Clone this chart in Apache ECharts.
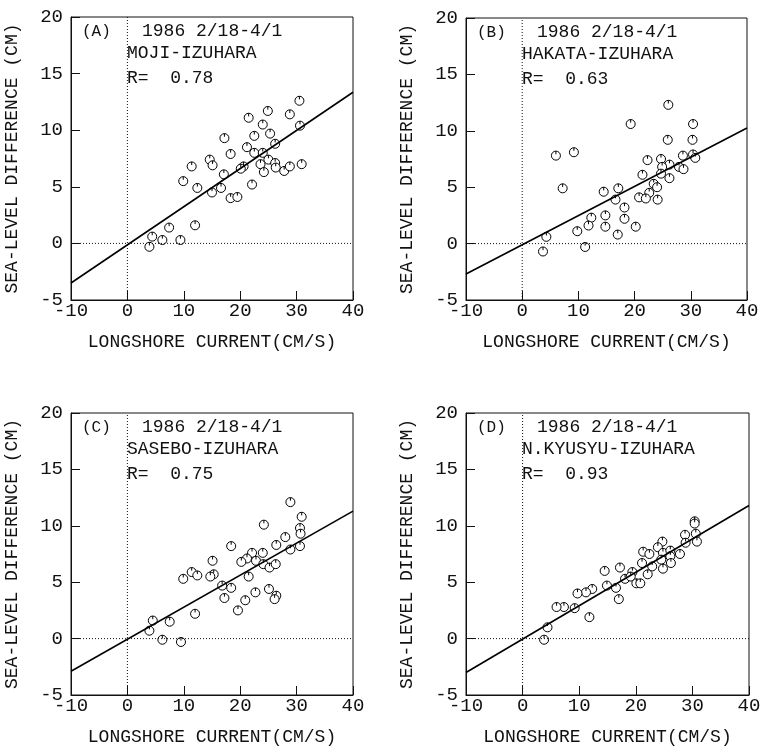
<!DOCTYPE html>
<html>
<head>
<meta charset="utf-8">
<script src="https://cdn.jsdelivr.net/npm/echarts@6/dist/echarts.min.js"></script>
<style>
  html, body { margin: 0; padding: 0; background: #fff; }
  #chart { width: 766px; height: 749px; }
</style>
</head>
<body>
<div id="chart"></div>
<script>
// Sea-level difference vs. longshore current, four station pairs (1986 2/18-4/1)
const panelTags = ['(A)', '(B)', '(C)', '(D)'];
const stationPairs = ['MOJI-IZUHARA', 'HAKATA-IZUHARA', 'SASEBO-IZUHARA', 'N.KYUSYU-IZUHARA'];
const correlations = ['0.78', '0.63', '0.75', '0.93'];
const period = '1986 2/18-4/1';
const xTitle = 'LONGSHORE CURRENT(CM/S)';
const yTitle = 'SEA-LEVEL DIFFERENCE (CM)';

// [current cm/s, sea-level difference cm]
const mojiPoints = [
  [30.5,12.6],[24.9,11.7],[21.5,11.1],[28.8,11.4],[24.0,10.5],[30.6,10.4],[25.3,9.7],[22.5,9.5],
  [17.2,9.3],[26.2,8.8],[21.2,8.5],[18.3,7.9],[22.5,8.0],[24.0,8.0],[25.0,7.4],[14.6,7.4],
  [15.1,6.9],[11.4,6.8],[20.6,6.8],[20.1,6.6],[23.6,7.0],[26.2,7.1],[26.3,6.7],[24.2,6.3],
  [27.8,6.4],[28.8,6.8],[30.9,7.0],[17.1,6.1],[9.9,5.5],[12.4,4.9],[16.6,4.9],[15.0,4.5],
  [22.1,5.2],[18.3,4.0],[19.5,4.1],[12.0,1.6],[7.4,1.4],[4.4,0.6],[6.2,0.3],[9.4,0.3],[3.9,-0.3]
];
const hakataPoints = [
  [26.0,12.3],[19.3,10.6],[30.4,10.6],[25.9,9.2],[30.3,9.2],[6.0,7.8],[9.2,8.1],[22.3,7.4],
  [24.7,7.5],[28.6,7.8],[30.4,7.9],[30.8,7.6],[26.2,7.0],[24.9,6.8],[27.9,6.8],[28.7,6.6],
  [21.4,6.1],[26.2,5.8],[24.7,6.2],[7.2,4.9],[14.5,4.6],[17.1,4.9],[16.6,3.9],[23.4,5.3],
  [24.0,5.0],[22.6,4.5],[20.8,4.1],[22.0,4.0],[24.1,3.9],[18.2,3.2],[12.3,2.3],[14.8,2.5],
  [11.8,1.6],[14.8,1.5],[18.2,2.2],[9.8,1.1],[20.2,1.5],[17.0,0.8],[4.3,0.6],[3.7,-0.7],[11.2,-0.3]
];
const sasebosPoints = [
  [28.9,12.1],[30.9,10.8],[24.2,10.1],[30.6,9.8],[30.7,9.3],[28.0,9.0],[26.4,8.3],[28.9,7.9],
  [30.6,8.2],[18.4,8.2],[22.1,7.6],[24.0,7.6],[21.2,7.1],[20.2,6.8],[22.8,6.9],[24.1,6.6],
  [25.2,6.3],[26.3,6.6],[15.1,6.9],[11.4,5.9],[9.9,5.3],[12.4,5.6],[15.3,5.7],[14.7,5.5],
  [21.5,5.5],[16.8,4.7],[18.4,4.5],[17.2,3.6],[22.7,4.1],[25.1,4.4],[26.4,3.8],[26.1,3.5],
  [20.9,3.4],[19.6,2.5],[12.0,2.2],[4.5,1.6],[7.5,1.5],[3.9,0.7],[6.2,-0.1],[9.5,-0.3]
];
const kyusyuPoints = [
  [30.4,10.4],[30.4,10.2],[28.7,9.2],[30.6,9.3],[28.8,8.5],[30.8,8.6],[24.7,8.6],[23.9,8.1],
  [21.3,7.7],[22.4,7.5],[24.8,7.6],[26.1,7.8],[27.8,7.5],[26.1,7.3],[24.5,7.0],[26.2,6.7],
  [24.8,6.2],[21.1,6.7],[22.9,6.4],[22.1,5.7],[14.5,6.0],[17.2,6.3],[19.4,5.9],[18.1,5.3],
  [19.1,5.5],[20.1,4.9],[20.8,4.9],[14.9,4.7],[16.5,4.5],[12.3,4.4],[11.2,4.1],[9.7,4.0],
  [17.0,3.5],[9.2,2.7],[7.3,2.8],[6.0,2.8],[11.8,1.9],[4.4,1.0],[3.8,-0.1]
];

// Least-squares fit lines, end points at the axis limits
const mojiFit = [[-10,-3.5],[40,13.35]];
const hakataFit = [[-10,-2.7],[40,10.25]];
const sasebosFit = [[-10,-2.9],[40,11.3]];
const kyusyuFit = [[-10,-3.0],[40,11.8]];

const xZeroLine = [[0,-5],[0,20]];
const yZeroLine = [[-10,0],[40,0]];

const pointSets = [mojiPoints, hakataPoints, sasebosPoints, kyusyuPoints];
const fitSets = [mojiFit, hakataFit, sasebosFit, kyusyuFit];

const FONT = '"Liberation Mono", "DejaVu Sans Mono", monospace';
const INK = '#111';
const grids = [
  { left: 71,  top: 17,  width: 282, height: 283 },
  { left: 466, top: 18,  width: 281, height: 282 },
  { left: 71,  top: 413, width: 282, height: 282 },
  { left: 466, top: 413, width: 283, height: 282 }
];

// open circle with a short tick from the top toward the centre
const markSymbol = 'path://M0,-10A10,10,0,1,1,0,10A10,10,0,1,1,0,-10ZM0,-10L0,-3';

const option = {
  animation: false,
  backgroundColor: '#fff',
  grid: grids.map(g => Object.assign({ show: true, borderColor: INK, borderWidth: 1, backgroundColor: 'transparent' }, g)),
  xAxis: grids.map((g, i) => ({
    type: 'value', gridIndex: i, min: -10, max: 40, interval: 10,
    name: xTitle, nameLocation: 'middle', nameGap: 33,
    nameTextStyle: { fontFamily: FONT, fontSize: 18, color: INK },
    axisLine: { show: true, onZero: false, lineStyle: { color: INK, width: 1 } },
    axisTick: { show: true, inside: true, length: 9, lineStyle: { color: INK, width: 1 } },
    axisLabel: { fontFamily: FONT, fontSize: 19, color: INK, margin: 1 },
    splitLine: { show: false }
  })),
  yAxis: grids.map((g, i) => ({
    type: 'value', gridIndex: i, min: -5, max: 20, interval: 5,
    name: yTitle, nameLocation: 'middle', nameGap: 50, nameRotate: 90,
    nameTextStyle: { fontFamily: FONT, fontSize: 18, color: INK },
    axisLine: { show: true, onZero: false, lineStyle: { color: INK, width: 1 } },
    axisTick: { show: true, inside: true, length: 9, lineStyle: { color: INK, width: 1 } },
    axisLabel: { fontFamily: FONT, fontSize: 19, color: INK, margin: 8, padding: [0, 0, 6, 0] },
    splitLine: { show: false }
  })),
  series: [],
  graphic: []
};

grids.forEach((g, i) => {
  [xZeroLine, yZeroLine].forEach(seg => {
    option.series.push({
      type: 'line', xAxisIndex: i, yAxisIndex: i, data: seg, symbol: 'none', silent: true,
      lineStyle: { color: INK, width: 1, type: [1, 2] }
    });
  });
  option.series.push({
    type: 'line', xAxisIndex: i, yAxisIndex: i, data: fitSets[i], symbol: 'none', silent: true,
    lineStyle: { color: '#000', width: 1.6 }, clip: true
  });
  option.series.push({
    type: 'scatter', xAxisIndex: i, yAxisIndex: i, data: pointSets[i],
    symbol: markSymbol, symbolSize: 9,
    itemStyle: { color: '#fff', borderColor: '#000', borderWidth: 1, opacity: 1 }
  });

  const txt = (text, dx, dy, size) => ({
    type: 'text', x: g.left + dx, y: g.top + dy, silent: true,
    style: { text, fill: INK, fontFamily: FONT, fontSize: size, align: 'left', verticalAlign: 'middle' }
  });
  option.graphic.push(txt(panelTags[i], 11, 15, 16));
  option.graphic.push(txt(period, 71, 14, 18));
  option.graphic.push(txt(stationPairs[i], 56, 36, 18));
  option.graphic.push(txt('R=  ' + correlations[i], 56, 61, 18));
});

const chart = echarts.init(document.getElementById('chart'), null, { renderer: 'canvas' });
chart.setOption(option);
</script>
</body>
</html>
